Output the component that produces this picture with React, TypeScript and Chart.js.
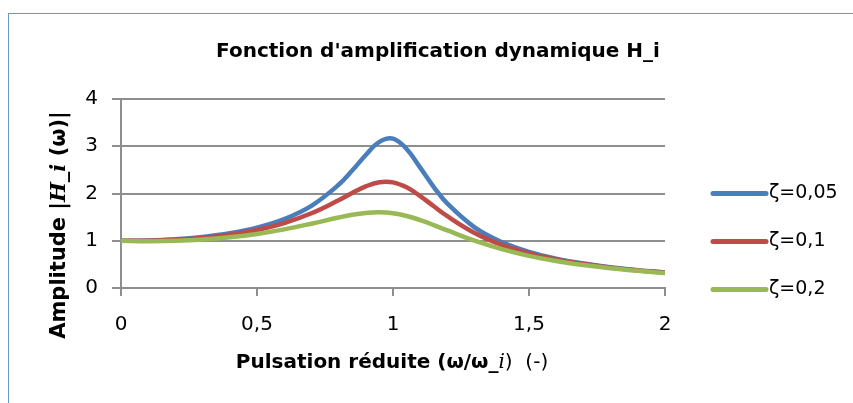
import React, { useEffect, useRef } from "react";
import { Chart, registerables, layouts } from "chart.js";

Chart.register(...registerables);

// ---- Data ----
const omegaRatio = [0, 0.1, 0.2, 0.3, 0.4, 0.5, 0.6, 0.7, 0.8, 0.85, 0.9, 0.95, 1, 1.05, 1.1, 1.15, 1.2, 1.3, 1.4, 1.5, 1.6, 1.7, 1.8, 1.9, 2];
const ampZeta005 = [1.0, 1.005, 1.031, 1.08, 1.158, 1.278, 1.459, 1.74, 2.184, 2.485, 2.816, 3.093, 3.162, 2.942, 2.547, 2.137, 1.786, 1.284, 0.971, 0.764, 0.621, 0.517, 0.439, 0.378, 0.33];
const ampZeta01 = [1.0, 1.0, 1.02, 1.061, 1.128, 1.229, 1.374, 1.581, 1.858, 2.012, 2.151, 2.239, 2.236, 2.13, 1.946, 1.73, 1.519, 1.166, 0.912, 0.733, 0.603, 0.506, 0.431, 0.373, 0.326];
const ampZeta02 = [1.0, 0.99, 0.999, 1.027, 1.075, 1.145, 1.241, 1.361, 1.491, 1.549, 1.589, 1.602, 1.581, 1.524, 1.437, 1.332, 1.218, 1.002, 0.822, 0.68, 0.57, 0.485, 0.417, 0.363, 0.319];
const seriesLabels = ["ζ=0,05", "ζ=0,1", "ζ=0,2"];
const seriesColors = ["#4A7EBB", "#BE4B48", "#98B954"];
const chartTitle = "Fonction d'amplification dynamique H_i";

const FONT = "DejaVu Sans";

type Seg = { t: string; f: string };

function drawRich(ctx: CanvasRenderingContext2D, segs: Seg[], cx: number, cy: number, rot: number) {
  ctx.save();
  ctx.translate(cx, cy);
  ctx.rotate(rot);
  let total = 0;
  segs.forEach((s) => {
    ctx.font = s.f;
    total += ctx.measureText(s.t).width;
  });
  let x = -total / 2;
  ctx.textBaseline = "middle";
  ctx.textAlign = "left";
  ctx.fillStyle = "#000";
  segs.forEach((s) => {
    ctx.font = s.f;
    ctx.fillText(s.t, x, 0);
    x += ctx.measureText(s.t).width;
  });
  ctx.restore();
}

// reserves room on the right of the plot for the legend, without shrinking the title
const spacerPlugin = {
  id: "rightSpacer",
  beforeInit(chart: any) {
    const box: any = {
      position: "right",
      weight: 0,
      fullSize: false,
      options: {},
      width: 0,
      height: 0,
      left: 0,
      top: 0,
      right: 0,
      bottom: 0,
      isHorizontal() {
        return false;
      },
      update(_maxWidth: number, maxHeight: number) {
        box.width = 202;
        box.height = maxHeight;
      },
      draw() {},
    };
    layouts.addBox(chart, box);
  },
};

const decorPlugin = {
  id: "decor",
  afterDraw(chart: any) {
    const { ctx, chartArea } = chart;
    const y0 = (chartArea.top + chartArea.bottom) / 2;
    chart.data.datasets.forEach((ds: any, i: number) => {
      const y = y0 + 48 * i;
      ctx.save();
      ctx.strokeStyle = ds.borderColor;
      ctx.lineWidth = 5;
      ctx.lineCap = "round";
      ctx.beginPath();
      ctx.moveTo(chartArea.right + 48, y);
      ctx.lineTo(chartArea.right + 101, y);
      ctx.stroke();
      ctx.font = `19px "${FONT}"`;
      ctx.fillStyle = "#000";
      ctx.textBaseline = "middle";
      ctx.textAlign = "left";
      ctx.fillText(ds.label, chartArea.right + 104, y);
      ctx.restore();
    });
    // y axis title
    drawRich(
      ctx,
      [
        { t: "Amplitude |", f: `bold 21px "${FONT}"` },
        { t: "H_i", f: `italic bold 21px "DejaVu Serif"` },
        { t: " (ω)|", f: `bold 21px "${FONT}"` },
      ],
      51,
      211,
      -Math.PI / 2
    );
    // x axis title
    drawRich(
      ctx,
      [
        { t: "Pulsation réduite (ω/ω_", f: `bold 20px "${FONT}"` },
        { t: "i", f: `italic 20px "DejaVu Serif"` },
        { t: ")  (-)", f: `20px "${FONT}"` },
      ],
      383,
      349,
      0
    );
  },
};

export default function App() {
  const canvasRef = useRef<HTMLCanvasElement | null>(null);

  useEffect(() => {
    document.body.style.margin = "0";
    document.body.style.overflow = "hidden";
    const canvas = canvasRef.current;
    if (!canvas) return;
    const series = [ampZeta005, ampZeta01, ampZeta02];
    const chart = new Chart(canvas, {
      type: "line",
      data: {
        datasets: series.map((vals, i) => ({
          label: seriesLabels[i],
          data: omegaRatio.map((x, j) => ({ x, y: vals[j] })),
          borderColor: seriesColors[i],
          backgroundColor: seriesColors[i],
          borderWidth: 4.5,
          pointRadius: 0,
          tension: 0.4,
          fill: false,
          order: 3 - i,
        })),
      },
      options: {
        animation: false,
        responsive: false,
        maintainAspectRatio: false,
        layout: { padding: 0 },
        plugins: {
          legend: { display: false },
          tooltip: { enabled: false },
          title: {
            display: true,
            text: chartTitle,
            color: "#000",
            font: { family: FONT, size: 20, weight: "bold" },
            padding: { top: 26, bottom: 35 },
          },
        },
        scales: {
          x: {
            type: "linear",
            min: 0,
            max: 2,
            afterFit: (scale: any) => {
              scale.height = 115;
            },
            ticks: {
              stepSize: 0.5,
              color: "#000",
              font: { family: FONT, size: 20 },
              padding: 17,
              maxRotation: 0,
              callback: (v: any) => String(v).replace(".", ","),
            },
            grid: {
              display: true,
              drawOnChartArea: false,
              drawTicks: true,
              tickLength: 8,
              color: "#8e8e8e",
              lineWidth: 2,
            },
            border: { display: true, color: "#8e8e8e", width: 2 },
          },
          y: {
            min: 0,
            max: 4,
            afterFit: (scale: any) => {
              scale.width = 112;
            },
            ticks: {
              stepSize: 1,
              color: "#000",
              font: { family: FONT, size: 20 },
              padding: 14,
            },
            grid: {
              color: "#8e8e8e",
              lineWidth: 2,
              drawTicks: true,
              tickLength: 9,
            },
            border: { display: true, color: "#8e8e8e", width: 2 },
          },
        },
      },
      plugins: [spacerPlugin, decorPlugin],
    });
    return () => chart.destroy();
  }, []);

  return (
    <div style={{ position: "relative", width: 853, height: 403, overflow: "hidden", background: "#fff" }}>
      <div
        style={{
          position: "absolute",
          left: 8,
          top: 13,
          width: 900,
          height: 500,
          border: "1px solid #7096c8",
          boxSizing: "border-box",
        }}
      />
      <canvas
        ref={canvasRef}
        width={858}
        height={389}
        style={{ position: "absolute", left: 9, top: 14, width: 858, height: 389 }}
      />
    </div>
  );
}
